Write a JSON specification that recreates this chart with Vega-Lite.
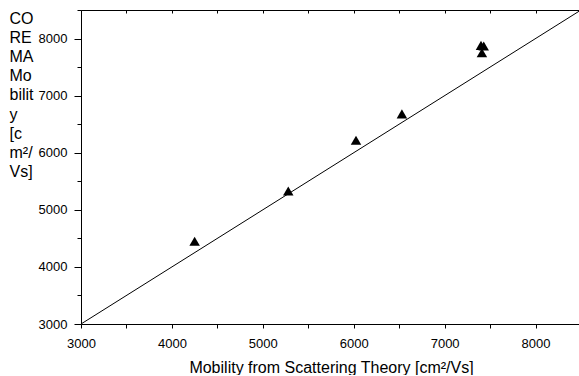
{
  "$schema": "https://vega.github.io/schema/vega-lite/v6.json",
  "width": 500,
  "height": 314,
  "padding": {"left": 9, "top": 4, "right": 0, "bottom": 0},
  "background": "white",
  "config": {
    "view": {"stroke": null},
    "font": "Liberation Sans",
    "axis": {
      "domainColor": "black",
      "tickColor": "black",
      "labelColor": "black",
      "titleColor": "black",
      "grid": false,
      "labelFlush": false,
      "labelOverlap": false,
      "labelFontSize": 13,
      "titleFontSize": 16,
      "titleFontWeight": "normal"
    }
  },
  "datasets": {
    "fit": [
      {"theory": 3000, "corema": 3000},
      {"theory": 8500, "corema": 8500}
    ],
    "points": [
      {"theory": 4250, "corema": 4450},
      {"theory": 5280, "corema": 5330},
      {"theory": 6025, "corema": 6220},
      {"theory": 6530, "corema": 6680},
      {"theory": 7400, "corema": 7880},
      {"theory": 7430, "corema": 7870},
      {"theory": 7410, "corema": 7750}
    ]
  },
  "encoding": {
    "y": {
      "field": "corema",
      "type": "quantitative",
      "scale": {"domain": [3000, 8500], "nice": false, "zero": false},
      "axis": {
        "values": [3000, 3500, 4000, 4500, 5000, 5500, 6000, 6500, 7000, 7500, 8000, 8500],
        "format": "d",
        "labelExpr": "datum.value % 1000 === 0 ? datum.label : ''",
        "tickSize": {"condition": {"test": "datum.value % 1000 === 0", "value": 7}, "value": 4},
        "labelPadding": 7,
        "title": ["CO", "RE", "MA", "Mo", "bilit", "y", "[c", "m²/", "Vs]"],
        "titleAngle": 0,
        "titleAlign": "left",
        "titleBaseline": "alphabetic",
        "titleX": -72,
        "titleY": 13,
        "titleLineHeight": 19.2
      }
    }
  },
  "layer": [
    {
      "data": {"name": "fit"},
      "mark": {"type": "line", "color": "black", "strokeWidth": 1},
      "encoding": {
        "x": {
          "field": "theory",
          "type": "quantitative",
          "scale": {"domain": [3000, 8500], "nice": false, "zero": false},
          "axis": {
            "orient": "bottom",
            "values": [3000, 3500, 4000, 4500, 5000, 5500, 6000, 6500, 7000, 7500, 8000, 8500],
            "format": "d",
            "labelExpr": "datum.value % 1000 === 0 ? datum.label : ''",
            "tickSize": 4,
            "labelPadding": 9,
            "title": "Mobility from Scattering Theory [cm²/Vs]",
            "titlePadding": 9
          }
        }
      }
    },
    {
      "data": {"name": "points"},
      "mark": {"type": "point", "shape": "triangle-up", "filled": true, "color": "black", "opacity": 1, "size": 110},
      "encoding": {
        "x": {
          "field": "theory",
          "type": "quantitative",
          "scale": {"domain": [3000, 8500], "nice": false, "zero": false},
          "axis": {
            "orient": "top",
            "values": [3000, 3500, 4000, 4500, 5000, 5500, 6000, 6500, 7000, 7500, 8000, 8500],
            "labels": false,
            "tickSize": -3,
            "title": null
          }
        }
      }
    }
  ],
  "resolve": {"axis": {"x": "independent"}}
}
